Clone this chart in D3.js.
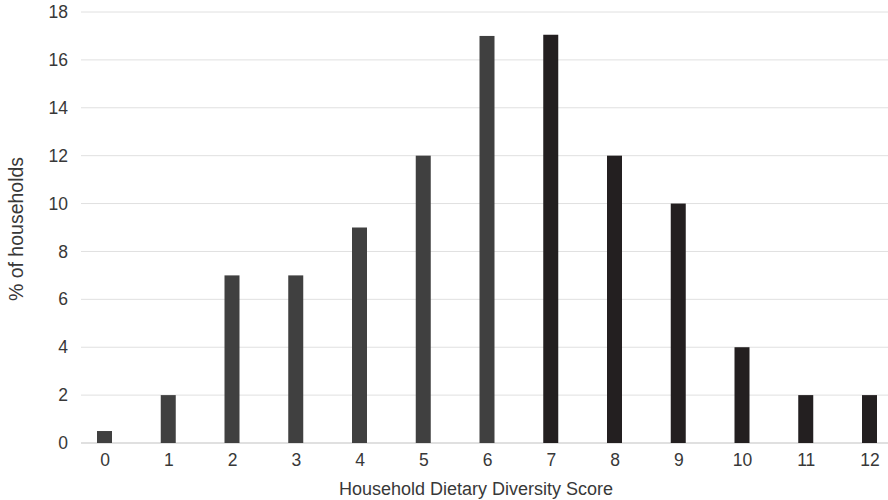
<!DOCTYPE html>
<html>
<head>
<meta charset="utf-8">
<script src="https://cdn.jsdelivr.net/npm/d3@7"></script>
<style>
  body { margin: 0; background: #fff; }
  text { font-family: "Liberation Sans", Arial, Helvetica, sans-serif; }
</style>
</head>
<body>
<svg id="chart" width="888" height="500"></svg>
<script>
const categories = ["0","1","2","3","4","5","6","7","8","9","10","11","12"];
const values = [0.5, 2, 7, 7, 9, 12, 17, 17.05, 12, 10, 4, 2, 2];
const groups = ["a","a","a","a","a","a","a","b","b","b","b","b","b"];
const yTicks = [0, 2, 4, 6, 8, 10, 12, 14, 16, 18];
const xTitle = "Household Dietary Diversity Score";
const yTitle = "% of households";

const svg = d3.select("#chart");
const color = d3.scaleOrdinal().domain(["a","b"]).range(["#404040", "#231f20"]);

const x = d3.scalePoint().domain(categories).range([104.5, 869.5]);
const y = d3.scaleLinear().domain([0, 18]).range([443, 12]);
const barW = 15;
const textColor = "#383838";

// gridlines
svg.append("g").selectAll("line").data(yTicks).join("line")
  .attr("x1", 81).attr("x2", 888)
  .attr("y1", d => y(d)).attr("y2", d => y(d))
  .attr("stroke", d => d === 0 ? "#d6d6d6" : "#e0e0e0")
  .attr("stroke-width", d => d === 0 ? 1.5 : 1);

// bars
svg.append("g").selectAll("rect").data(categories).join("rect")
  .attr("x", d => x(d) - barW / 2)
  .attr("width", barW)
  .attr("y", (d, i) => y(values[i]))
  .attr("height", (d, i) => y(0) - y(values[i]))
  .attr("fill", (d, i) => color(groups[i]));

// y axis
const yAxis = d3.axisLeft(y).tickValues(yTicks).tickSize(0).tickPadding(0);
const gy = svg.append("g").attr("transform", "translate(68,0)").call(yAxis);
gy.select(".domain").remove();
gy.selectAll("text").attr("font-size", 17.5).attr("fill", textColor)
  .attr("font-family", "Liberation Sans, Arial, sans-serif");

// x axis
const xAxis = d3.axisBottom(x).tickSize(0).tickPadding(0);
const gx = svg.append("g").attr("transform", "translate(0,454)").call(xAxis);
gx.select(".domain").remove();
gx.selectAll("text").attr("font-size", 17.5).attr("fill", textColor)
  .attr("font-family", "Liberation Sans, Arial, sans-serif");

// axis titles
svg.append("text")
  .attr("x", 476).attr("y", 494.5)
  .attr("text-anchor", "middle")
  .attr("font-size", 18).attr("fill", textColor)
  .text(xTitle);

svg.append("text")
  .attr("transform", "translate(23,229) rotate(-90)")
  .attr("text-anchor", "middle")
  .attr("font-size", 19.5).attr("fill", textColor)
  .text(yTitle);
</script>
</body>
</html>
